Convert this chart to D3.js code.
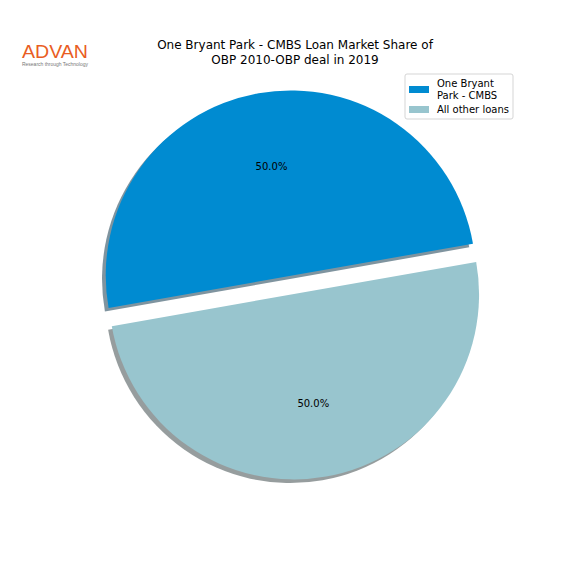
<!DOCTYPE html>
<html>
<head>
<meta charset="utf-8">
<script src="https://d3js.org/d3.v7.min.js"></script>
<style>
  body { margin: 0; background: #fff; }
  svg { display: block; }
</style>
</head>
<body>
<div id="container"></div>
<script>
// data
var labels = ["One Bryant Park - CMBS", "All other loans"];
var legendLines = [["One Bryant", "Park - CMBS"], ["All other loans"]];
var shares = [50, 50];
var colors = ["#008bd1", "#98c5ce"];
var explode = [0.1, 0];
var titleLines = ["One Bryant Park - CMBS Loan Market Share of", "OBP 2010-OBP deal in 2019"];

var width = 576, height = 576;
var cx = 294, cy = 294, r = 185;
var startDeg = 10; // counterclockwise from 3 o'clock, like matplotlib

var svg = d3.select("#container")
  .append("svg")
  .attr("width", width)
  .attr("height", height)
  .attr("font-family", "DejaVu Sans, sans-serif");

// d3 angles run clockwise from 12 o'clock, so go backwards from 90 - start
var a0 = (90 - startDeg) * Math.PI / 180;
var pie = d3.pie()
  .sort(null)
  .value(function(d) { return d; })
  .startAngle(a0)
  .endAngle(a0 - 2 * Math.PI);

var arcs = pie(shares);
var arc = d3.arc().innerRadius(0).outerRadius(r);

function offset(d, i) {
  var mid = (d.startAngle + d.endAngle) / 2;
  return [explode[i] * r * Math.sin(mid), -explode[i] * r * Math.cos(mid)];
}

// shadows first (darkened face colour, half alpha)
svg.append("g")
  .selectAll("path")
  .data(arcs)
  .enter().append("path")
  .attr("transform", function(d, i) {
    var o = offset(d, i);
    return "translate(" + (cx + o[0] - 3.7) + "," + (cy + o[1] + 3.7) + ")";
  })
  .attr("d", arc)
  .attr("fill", function(d, i) {
    var c = d3.rgb(colors[i]);
    return d3.rgb(c.r * 0.3, c.g * 0.3, c.b * 0.3).toString();
  })
  .attr("fill-opacity", 0.5);

var slices = svg.append("g")
  .selectAll("g")
  .data(arcs)
  .enter().append("g")
  .attr("transform", function(d, i) {
    var o = offset(d, i);
    return "translate(" + (cx + o[0]) + "," + (cy + o[1]) + ")";
  });

slices.append("path")
  .attr("d", arc)
  .attr("fill", function(d, i) { return colors[i]; });

var pctArc = d3.arc().innerRadius(r * 0.6).outerRadius(r * 0.6);
slices.append("text")
  .attr("transform", function(d) { return "translate(" + pctArc.centroid(d) + ")"; })
  .attr("text-anchor", "middle")
  .attr("dy", "0.35em")
  .attr("font-size", 10)
  .attr("fill", "#000")
  .text(function(d) { return d3.format(".1f")(d.data) + "%"; });

// title
svg.append("g")
  .selectAll("text")
  .data(titleLines)
  .enter().append("text")
  .attr("x", 295)
  .attr("y", function(d, i) { return 48.5 + i * 15; })
  .attr("text-anchor", "middle")
  .attr("font-size", 12)
  .attr("fill", "#000")
  .text(function(d) { return d; });

// legend
var lg = svg.append("g").attr("font-size", 10);
lg.append("rect")
  .attr("x", 405)
  .attr("y", 74)
  .attr("width", 108)
  .attr("height", 45)
  .attr("rx", 2)
  .attr("fill", "#fff")
  .attr("fill-opacity", 0.8)
  .attr("stroke", "#d5d5d5")
  .attr("stroke-width", 1);

var patchY = [86, 106];
var item = lg.selectAll("g.item")
  .data(labels)
  .enter().append("g")
  .attr("class", "item");

item.append("rect")
  .attr("x", 409)
  .attr("y", function(d, i) { return patchY[i]; })
  .attr("width", 20)
  .attr("height", 7)
  .attr("fill", function(d, i) { return colors[i]; });

item.append("text")
  .attr("fill", "#000")
  .each(function(d, i) {
    var lines = legendLines[i];
    var base = i === 0 ? 87.3 : 112.5;
    d3.select(this).selectAll("tspan")
      .data(lines)
      .enter().append("tspan")
      .attr("x", 437)
      .attr("y", function(l, j) { return base + j * 11.5; })
      .text(function(l) { return l; });
  });

// logo
var logo = svg.append("g");
logo.append("text")
  .attr("x", 22)
  .attr("y", 57.5)
  .attr("font-family", "Liberation Sans, Arial, sans-serif")
  .attr("font-size", 18)
  .attr("fill", "#e95d23")
  .attr("textLength", 66)
  .attr("lengthAdjust", "spacingAndGlyphs")
  .text("ADVAN");
logo.append("text")
  .attr("x", 22)
  .attr("y", 65.5)
  .attr("font-family", "Liberation Sans, Arial, sans-serif")
  .attr("font-size", 4.5)
  .attr("fill", "#777")
  .attr("textLength", 66)
  .attr("lengthAdjust", "spacingAndGlyphs")
  .text("Research through Technology");
</script>
</body>
</html>
